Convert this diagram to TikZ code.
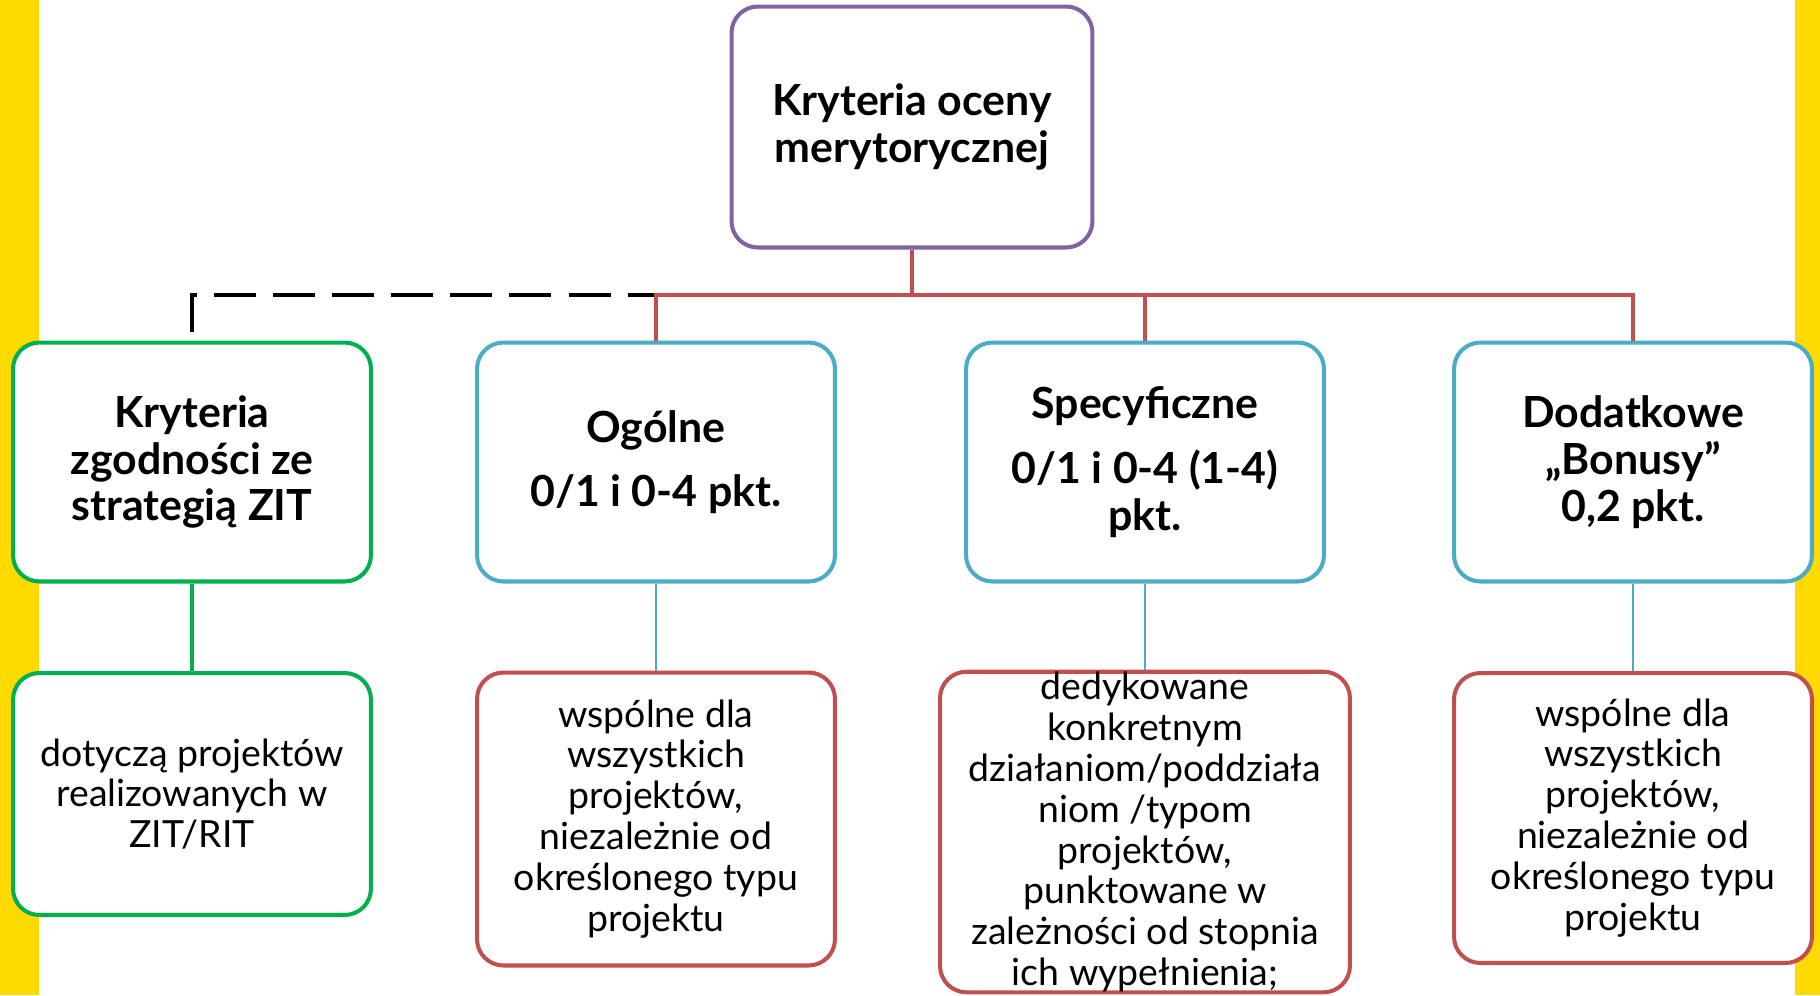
\documentclass[tikz,border=0pt]{standalone}
\usepackage{fontspec}
\setmainfont{Lato}
\usetikzlibrary{positioning}
\definecolor{zolty}{HTML}{FFDA00}
\definecolor{fiolet}{HTML}{8064A2}
\definecolor{zielony}{HTML}{00B050}
\definecolor{niebieski}{HTML}{4BACC6}
\definecolor{czerwony}{HTML}{C0504D}
\tikzset{
  ramka/.style={draw, line width=2.3pt, rounded corners=15pt, fill=white,
    align=center, inner sep=0pt},
  naglowek/.style={ramka, font=\fontsize{24.4}{26.7}\selectfont\bfseries},
  opis/.style={ramka, font=\fontsize{21.3}{23.3}\selectfont},
  szeroka/.style={minimum width=7.16cm, minimum height=4.78cm},
  galaz/.style={czerwony, line width=2.3pt},
  przerywana/.style={black, line width=2.3pt, dash pattern=on 23.9pt off 9.7pt},
  zielona/.style={zielony, line width=2.3pt},
  cienka/.style={niebieski, line width=1.1pt}
}
\begin{document}
\begin{tikzpicture}[x=0.02cm, y=-0.02cm]
    \useasboundingbox (0,0) rectangle (1820,995);
    \fill[white] (0,0) rectangle (1820,995);
    % side bars
    \fill[zolty] (0,0) rectangle (39,995);
    \fill[zolty] (1795,0) rectangle (1820,995);

    % top
    \node[naglowek, draw=fiolet, minimum width=7.22cm, minimum height=4.82cm]
        (kryteria) at (912,127) {Kryteria oceny\\merytorycznej};

    % first row
    \node[naglowek, szeroka, draw=zielony] (zgodnosc) at (192,462)
        {Kryteria\\zgodności ze\\strategią ZIT};
    \node[naglowek, szeroka, draw=niebieski] (ogolne) at (656,462)
        {Ogólne\\[10pt]0/1 i 0-4 pkt.};
    \node[naglowek, szeroka, draw=niebieski] (specyficzne) at (1145,462)
        {Specyficzne\\[10pt]0/1 i 0-4 (1-4)\\pkt.};
    \node[naglowek, szeroka, draw=niebieski] (dodatkowe) at (1633,462)
        {Dodatkowe\\„Bonusy”\\0,2 pkt.};

    % second row
    \node[opis, draw=zielony, minimum width=7.16cm, minimum height=4.84cm]
        (opisZgodnosc) at (192,794) {dotyczą projektów\\realizowanych w\\ZIT/RIT};
    \node[opis, draw=czerwony, minimum width=7.16cm, minimum height=5.86cm]
        (opisOgolne) at (656,819)
        {wspólne dla\\wszystkich\\projektów,\\niezależnie od\\określonego typu\\projektu};
    \node[opis, draw=czerwony, minimum width=8.2cm, minimum height=6.38cm]
        (opisSpecyficzne) at (1145,832)
        {dedykowane\\konkretnym\\działaniom/poddziała\\niom /typom\\projektów,\\punktowane w\\zależności od stopnia\\ich wypełnienia;};
    \node[opis, draw=czerwony, minimum width=7.16cm, minimum height=5.8cm]
        (opisDodatkowe) at (1633,818)
        {wspólne dla\\wszystkich\\projektów,\\niezależnie od\\określonego typu\\projektu};

    % connectors
    \coordinate (szyna) at (912,295);
    \draw[przerywana] ([yshift=5pt]zgodnosc.north) |- (szyna);
    \draw[galaz] (kryteria.south) -- (szyna);
    \draw[galaz] (ogolne.north) -- (ogolne.north |- szyna)
        -- (dodatkowe.north |- szyna) -- (dodatkowe.north);
    \draw[galaz] (specyficzne.north) -- (specyficzne.north |- szyna);

    \draw[zielona] (zgodnosc) -- (opisZgodnosc);
    \foreach \gora/\dol in {ogolne/opisOgolne, specyficzne/opisSpecyficzne, dodatkowe/opisDodatkowe}
        \draw[cienka] (\gora) -- (\dol);
\end{tikzpicture}
\end{document}
